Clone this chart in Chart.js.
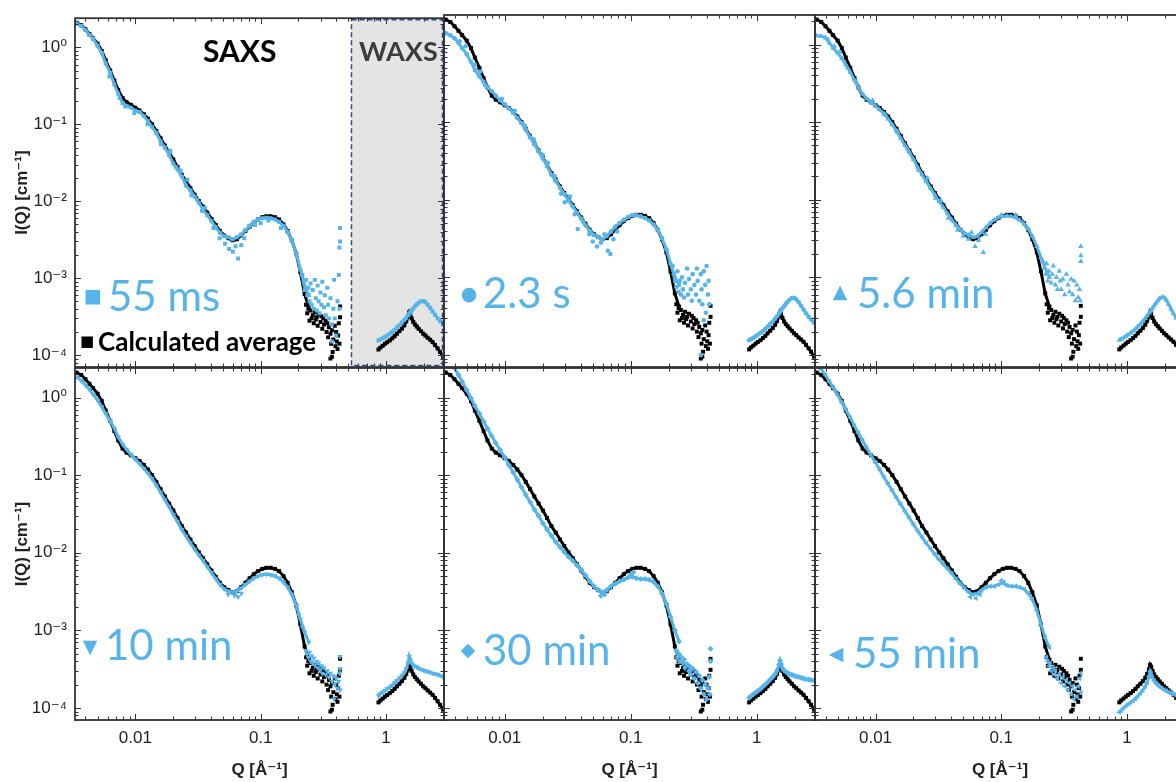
<!DOCTYPE html>
<html>
<head>
<meta charset="utf-8">
<title>SAXS / WAXS time series</title>
<script src="https://cdn.jsdelivr.net/npm/chart.js@4.4.1/dist/chart.umd.min.js"></script>
<style>
html, body { margin:0; padding:0; width:1176px; height:782px; overflow:hidden; background:#fff; }
canvas { position:absolute; left:0; top:0; }
</style>
</head>
<body>
<canvas id="c1" width="1190" height="782"></canvas>
<canvas id="c2" width="1190" height="782"></canvas>
<canvas id="c3" width="1190" height="782"></canvas>
<canvas id="c4" width="1190" height="782"></canvas>
<canvas id="c5" width="1190" height="782"></canvas>
<canvas id="c6" width="1190" height="782"></canvas>
<script>
// Q grids (1/Å)
const qSaxs = [0.0034,0.0037,0.004,0.0043,0.0046,0.005,0.0054,0.0058,0.0063,0.0068,0.0073,0.0079,0.0085,0.0092,0.01,0.0108,0.0117,0.0126,0.0136,0.0147,0.0159,0.0172,0.0186,0.0201,0.0217,0.0235,0.0254,0.0275,0.0297,0.0321,0.0347,0.0375,0.0405,0.0438,0.0473,0.0511,0.0553,0.0598,0.0646,0.0698,0.0755,0.0816,0.0882,0.0953,0.103,0.111,0.12,0.13,0.14,0.152,0.164,0.177,0.192,0.207,0.224,0.242];
const qWaxs = [0.87,0.9,0.94,0.98,1.02,1.07,1.12,1.17,1.22,1.28,1.34,1.4,1.45,1.5,1.53,1.56,1.6,1.65,1.7,1.76,1.82,1.9,1.98,2.06,2.15,2.25,2.35,2.46,2.58,2.7,2.85];

// calculated average (black)
const avgSaxs = [2.1,1.95,1.72,1.5,1.32,1.12,0.9,0.68,0.5,0.37,0.28,0.22,0.195,0.18,0.165,0.152,0.135,0.118,0.1,0.082,0.066,0.053,0.043,0.035,0.028,0.022,0.0182,0.0148,0.0122,0.0101,0.0085,0.0071,0.0059,0.0049,0.0041,0.0036,0.0033,0.0031,0.0032,0.0036,0.0041,0.0047,0.0053,0.0058,0.0062,0.0064,0.0064,0.0062,0.0058,0.005,0.0041,0.0031,0.0021,0.0012,0.00062,0.00042];
const avgNoise = [[0.23,0.00045],[0.235,0.00035],[0.24,0.0004],[0.245,0.00028],[0.25,0.00038],[0.255,0.0003],[0.26,0.00033],[0.265,0.00026],[0.27,0.00036],[0.275,0.00029],[0.28,0.00031],[0.285,0.00024],[0.29,0.00034],[0.3,0.00027],[0.305,0.00032],[0.31,0.00022],[0.315,0.0003],[0.32,0.00025],[0.33,0.00028],[0.335,0.0002],[0.34,0.00026],[0.345,0.00017],[0.35,0.00023],[0.36,0.00019],[0.365,0.00014],[0.37,0.00021],[0.375,0.00011],[0.38,0.00016],[0.39,0.00024],[0.395,0.00013],[0.4,0.0002],[0.405,0.00015],[0.41,0.00012],[0.415,0.00018],[0.42,0.00026],[0.425,0.00014],[0.43,0.00043],[0.43,0.00031],[0.37,0.000095],[0.36,0.00009]];
const avgWaxs = [1.18e-4,1.25e-4,1.32e-4,1.4e-4,1.47e-4,1.55e-4,1.65e-4,1.76e-4,1.9e-4,2.05e-4,2.22e-4,2.45e-4,2.75e-4,3.15e-4,3.6e-4,3.4e-4,3.0e-4,2.7e-4,2.5e-4,2.35e-4,2.2e-4,2.05e-4,1.9e-4,1.8e-4,1.68e-4,1.58e-4,1.48e-4,1.35e-4,1.22e-4,1.1e-4,9.5e-5];

// 55 ms
const ms55Saxs = [2.05,1.9,1.68,1.45,1.3,1.05,0.85,0.62,0.47,0.33,0.25,0.19,0.175,0.165,0.15,0.145,0.128,0.11,0.092,0.078,0.06,0.05,0.04,0.031,0.026,0.021,0.016,0.0138,0.0115,0.0096,0.0078,0.0066,0.0055,0.0046,0.0039,0.0035,0.0034,0.0032,0.0034,0.0037,0.0042,0.0048,0.0054,0.0058,0.006,0.0061,0.006,0.0058,0.0054,0.0048,0.004,0.0031,0.0021,0.0013,0.0008,0.0006];
const ms55Extra = [[0.0062,0.42],[0.0075,0.22],[0.0083,0.17],[0.0098,0.14],[0.0125,0.1],[0.016,0.055],[0.019,0.045],[0.021,0.028],[0.023,0.025],[0.026,0.019],[0.028,0.012],[0.031,0.0105],[0.034,0.0075],[0.036,0.0082],[0.042,0.0045],[0.047,0.0033],[0.052,0.0028],[0.056,0.0024],[0.06,0.0022],[0.063,0.0026],[0.066,0.0018],[0.07,0.0027],[0.074,0.0033],[0.09,0.0049],[0.1,0.0052],[0.115,0.0056],[0.145,0.0045]];
const ms55Noise = [[0.215,0.0011],[0.22,0.0009],[0.225,0.0007],[0.23,0.00095],[0.235,0.0006],[0.24,0.00075],[0.245,0.0005],[0.25,0.00085],[0.255,0.00045],[0.26,0.0007],[0.265,0.0004],[0.27,0.00095],[0.275,0.00055],[0.28,0.00038],[0.285,0.0008],[0.29,0.0005],[0.295,0.00035],[0.3,0.00065],[0.305,0.00045],[0.31,0.0009],[0.32,0.00042],[0.325,0.0006],[0.33,0.00033],[0.34,0.00075],[0.345,0.00045],[0.35,0.0003],[0.36,0.00055],[0.37,0.00025],[0.38,0.0004],[0.385,0.00095],[0.39,0.0003],[0.4,0.00018],[0.41,0.0005],[0.42,0.0011],[0.425,0.0004],[0.43,0.0045],[0.43,0.003],[0.425,0.0025],[0.37,0.00015]];
const ms55Waxs = [1.55e-4,1.6e-4,1.65e-4,1.72e-4,1.8e-4,1.9e-4,2.0e-4,2.12e-4,2.28e-4,2.45e-4,2.65e-4,2.85e-4,3.05e-4,3.3e-4,3.45e-4,3.6e-4,3.8e-4,4.05e-4,4.3e-4,4.55e-4,4.8e-4,5.0e-4,5.05e-4,4.85e-4,4.5e-4,4.1e-4,3.7e-4,3.35e-4,3.0e-4,2.75e-4,2.5e-4];

// 2.3 s
const s23Saxs = [1.4,1.32,1.2,1.05,0.9,0.75,0.6,0.47,0.39,0.33,0.28,0.25,0.22,0.19,0.17,0.15,0.132,0.113,0.097,0.08,0.064,0.052,0.042,0.034,0.027,0.021,0.0175,0.0142,0.0118,0.0097,0.0082,0.0068,0.0057,0.0047,0.004,0.0035,0.0033,0.0031,0.0034,0.0039,0.0045,0.005,0.0055,0.006,0.0063,0.0063,0.0061,0.0058,0.0054,0.0048,0.0041,0.0032,0.0023,0.0015,0.001,0.0008];
const s23Extra = [[0.0044,1.1],[0.0049,0.95],[0.0058,0.55],[0.0064,0.45],[0.007,0.3],[0.0095,0.2],[0.012,0.14],[0.0145,0.09],[0.017,0.06],[0.02,0.038],[0.022,0.03],[0.025,0.02],[0.028,0.012],[0.03,0.0093],[0.033,0.011],[0.036,0.0065],[0.038,0.0042],[0.042,0.0052],[0.047,0.0036],[0.05,0.0029],[0.054,0.0025],[0.058,0.0028],[0.062,0.0036],[0.066,0.0022],[0.069,0.002],[0.073,0.0031],[0.078,0.0039]];
const s23Noise = [[0.215,0.0014],[0.22,0.0011],[0.225,0.0009],[0.23,0.00075],[0.235,0.0012],[0.24,0.00065],[0.245,0.0009],[0.25,0.0006],[0.255,0.001],[0.26,0.0007],[0.265,0.00055],[0.27,0.00085],[0.28,0.0013],[0.285,0.0006],[0.29,0.00095],[0.3,0.0007],[0.305,0.0005],[0.31,0.0011],[0.32,0.0008],[0.33,0.0006],[0.335,0.0013],[0.34,0.0009],[0.35,0.0005],[0.36,0.0011],[0.365,0.0007],[0.37,0.00045],[0.38,0.0012],[0.39,0.0008],[0.395,0.00035],[0.4,0.0014],[0.41,0.0006],[0.415,0.0009],[0.42,0.00045],[0.36,0.0001],[0.38,0.00028]];
const s23Waxs = [1.55e-4,1.6e-4,1.66e-4,1.74e-4,1.82e-4,1.92e-4,2.03e-4,2.16e-4,2.32e-4,2.5e-4,2.7e-4,2.92e-4,3.15e-4,3.4e-4,3.58e-4,3.75e-4,3.98e-4,4.25e-4,4.55e-4,4.85e-4,5.15e-4,5.4e-4,5.45e-4,5.2e-4,4.8e-4,4.3e-4,3.85e-4,3.45e-4,3.1e-4,2.85e-4,2.6e-4];

// 5.6 min
const min6Saxs = [1.3,1.28,1.22,1.05,0.9,0.78,0.66,0.55,0.44,0.35,0.28,0.23,0.2,0.18,0.162,0.145,0.128,0.11,0.093,0.077,0.062,0.05,0.041,0.033,0.026,0.021,0.0172,0.014,0.0115,0.0095,0.008,0.0066,0.0055,0.0047,0.0041,0.0037,0.0035,0.0033,0.0034,0.0038,0.0044,0.005,0.0055,0.0059,0.0061,0.0062,0.0061,0.0059,0.0055,0.0049,0.0042,0.0034,0.0025,0.0018,0.0013,0.001];
const min6Extra = [[0.0042,1.15],[0.0047,0.95],[0.0052,0.8],[0.006,0.5],[0.007,0.33],[0.0095,0.19],[0.012,0.125],[0.015,0.075],[0.018,0.045],[0.022,0.024],[0.026,0.019],[0.03,0.0105],[0.033,0.0098],[0.038,0.0058],[0.045,0.0041],[0.05,0.0034],[0.055,0.0031],[0.058,0.0038],[0.062,0.0025],[0.066,0.003],[0.072,0.0021],[0.075,0.0036],[0.1,0.0063],[0.13,0.0063]];
const min6Noise = [[0.215,0.0016],[0.22,0.0013],[0.225,0.0011],[0.23,0.0015],[0.235,0.0009],[0.24,0.0012],[0.25,0.00085],[0.255,0.0011],[0.26,0.0014],[0.27,0.0008],[0.275,0.001],[0.28,0.0007],[0.29,0.0012],[0.295,0.0009],[0.3,0.0007],[0.31,0.00095],[0.32,0.0006],[0.33,0.0011],[0.34,0.0008],[0.35,0.00065],[0.36,0.00095],[0.37,0.0006],[0.38,0.0009],[0.39,0.0005],[0.4,0.0008],[0.41,0.00055],[0.42,0.0007],[0.43,0.0025],[0.43,0.0019],[0.43,0.0016],[0.425,0.0005]];
const min6Waxs = [1.55e-4,1.6e-4,1.66e-4,1.74e-4,1.82e-4,1.92e-4,2.03e-4,2.16e-4,2.32e-4,2.5e-4,2.72e-4,2.95e-4,3.2e-4,3.45e-4,3.62e-4,3.8e-4,4.05e-4,4.35e-4,4.65e-4,5.0e-4,5.3e-4,5.55e-4,5.5e-4,5.1e-4,4.5e-4,3.9e-4,3.4e-4,3.0e-4,2.7e-4,2.45e-4,2.25e-4];

// 10 min
const min10Saxs = [1.85,1.65,1.45,1.27,1.1,0.92,0.76,0.62,0.5,0.4,0.31,0.25,0.215,0.185,0.16,0.14,0.122,0.106,0.09,0.074,0.06,0.048,0.039,0.031,0.025,0.0198,0.0163,0.0134,0.0111,0.0093,0.0079,0.0066,0.0055,0.0046,0.0039,0.0034,0.0032,0.0031,0.0032,0.0035,0.0039,0.0043,0.0047,0.005,0.0052,0.0053,0.0052,0.005,0.0047,0.0042,0.0036,0.0029,0.0021,0.0014,0.00095,0.0007];
const min10Extra = [[0.055,0.0029],[0.062,0.0028],[0.066,0.0027],[0.07,0.003],[0.2,0.0016],[0.215,0.0011]];
const min10Noise = [[0.23,0.00055],[0.235,0.0005],[0.24,0.00045],[0.245,0.00052],[0.25,0.0004],[0.255,0.00047],[0.26,0.00038],[0.265,0.00044],[0.27,0.00036],[0.28,0.0004],[0.285,0.00033],[0.29,0.00038],[0.3,0.00031],[0.305,0.00035],[0.31,0.00028],[0.32,0.00033],[0.33,0.00027],[0.34,0.0003],[0.35,0.00025],[0.36,0.00028],[0.37,0.00022],[0.38,0.00026],[0.385,0.00013],[0.39,0.0002],[0.4,0.00024],[0.41,0.00018],[0.42,0.00022],[0.425,0.00028],[0.43,0.00032],[0.43,0.00046],[0.43,0.00017]];
const min10Waxs = [1.45e-4,1.52e-4,1.6e-4,1.68e-4,1.76e-4,1.85e-4,1.96e-4,2.1e-4,2.25e-4,2.42e-4,2.6e-4,2.85e-4,3.2e-4,3.8e-4,4.6e-4,4.2e-4,3.75e-4,3.55e-4,3.45e-4,3.35e-4,3.25e-4,3.15e-4,3.08e-4,3.0e-4,2.95e-4,2.88e-4,2.8e-4,2.75e-4,2.7e-4,2.62e-4,2.5e-4];

// 30 min
const min30Saxs = [null,null,2.4,1.95,1.6,1.25,0.98,0.78,0.62,0.49,0.4,0.32,0.26,0.21,0.17,0.135,0.108,0.087,0.07,0.056,0.045,0.036,0.03,0.024,0.02,0.0165,0.0138,0.0118,0.0102,0.0089,0.0079,0.0069,0.006,0.0051,0.0043,0.0037,0.0033,0.0031,0.0033,0.0037,0.004,0.0043,0.0045,0.0048,0.0049,0.0047,0.0046,0.0046,0.0045,0.0042,0.0037,0.003,0.0022,0.0015,0.001,0.00072];
const min30Extra = [[0.058,0.0028],[0.062,0.0029],[0.1,0.0052],[0.105,0.0056]];
const min30Noise = [[0.23,0.00055],[0.235,0.00045],[0.24,0.0005],[0.245,0.0004],[0.25,0.00046],[0.26,0.00038],[0.265,0.00042],[0.27,0.00033],[0.28,0.00037],[0.29,0.0003],[0.295,0.00034],[0.3,0.00027],[0.31,0.00032],[0.32,0.00024],[0.33,0.00029],[0.34,0.00021],[0.35,0.00026],[0.36,0.00018],[0.37,0.00023],[0.38,0.00015],[0.39,0.0002],[0.4,0.00013],[0.41,0.00018],[0.42,0.00025],[0.425,0.00015],[0.43,0.00058],[0.43,0.0004]];
const min30Waxs = [1.35e-4,1.42e-4,1.5e-4,1.58e-4,1.66e-4,1.76e-4,1.88e-4,2.0e-4,2.15e-4,2.32e-4,2.5e-4,2.75e-4,3.05e-4,3.6e-4,4.1e-4,3.7e-4,3.25e-4,3.05e-4,2.92e-4,2.82e-4,2.75e-4,2.68e-4,2.6e-4,2.55e-4,2.5e-4,2.45e-4,2.4e-4,2.35e-4,2.32e-4,2.3e-4,2.25e-4];

// 55 min
const min55Saxs = [null,2.3,1.95,1.6,1.35,1.08,0.86,0.7,0.55,0.43,0.35,0.28,0.225,0.18,0.145,0.117,0.094,0.077,0.063,0.051,0.042,0.034,0.028,0.023,0.019,0.0158,0.0132,0.0112,0.0095,0.0082,0.0071,0.0062,0.0054,0.0046,0.004,0.0035,0.0031,0.0029,0.003,0.0033,0.0036,0.0037,0.0037,0.0039,0.0041,0.0038,0.0037,0.0037,0.0036,0.0034,0.003,0.0025,0.0018,0.0012,0.0008,0.0006];
const min55Extra = [[0.057,0.0027],[0.063,0.0026],[0.068,0.0029],[0.1,0.0044],[0.105,0.0042]];
const min55Noise = [[0.23,0.00045],[0.235,0.0004],[0.24,0.00035],[0.245,0.00038],[0.25,0.0003],[0.26,0.00033],[0.265,0.00027],[0.27,0.0003],[0.28,0.00024],[0.29,0.00027],[0.3,0.00021],[0.31,0.00025],[0.32,0.00019],[0.33,0.00023],[0.34,0.00017],[0.35,0.00021],[0.36,0.00015],[0.37,0.00019],[0.38,0.00013],[0.39,0.00017],[0.4,0.00014],[0.41,0.00019],[0.42,0.00024],[0.43,0.00028],[0.43,0.00016]];
const min55Waxs = [8.8e-5,9.3e-5,1.0e-4,1.06e-4,1.12e-4,1.18e-4,1.24e-4,1.32e-4,1.42e-4,1.55e-4,1.7e-4,1.9e-4,2.15e-4,2.55e-4,2.95e-4,2.75e-4,2.45e-4,2.25e-4,2.1e-4,1.98e-4,1.88e-4,1.8e-4,1.72e-4,1.66e-4,1.6e-4,1.55e-4,1.5e-4,1.45e-4,1.4e-4,1.35e-4,1.3e-4];

const BLUE = "#56b4e9";
const W = 1190, H = 782;
const cols = [[75, 444], [444, 815], [815, 1185]];
const rows = [[15, 367], [368, 720]];
const sans = "'Liberation Sans', Arial, 'DejaVu Sans', sans-serif";

const panels = [
  {id:"c1", col:0, row:0, label:"55 ms", marker:"■", style:"rect", rot:0, r:2.8, saxs:ms55Saxs, extra:ms55Extra, noise:ms55Noise, waxs:ms55Waxs, mx:18, my:279, tx:33, ty:293, first:true},
  {id:"c2", col:1, row:0, label:"2.3 s", marker:"●", style:"circle", rot:0, r:2.3, saxs:s23Saxs, extra:s23Extra, noise:s23Noise, waxs:s23Waxs, mx:25, my:280, tx:39, ty:293},
  {id:"c3", col:2, row:0, label:"5.6 min", marker:"▲", style:"triangle", rot:0, r:3.2, saxs:min6Saxs, extra:min6Extra, noise:min6Noise, waxs:min6Waxs, mx:25, my:278, tx:42, ty:293},
  {id:"c4", col:0, row:1, label:"10 min", marker:"▼", style:"triangle", rot:180, r:3.2, saxs:min10Saxs, extra:min10Extra, noise:min10Noise, waxs:min10Waxs, mx:15, my:280, tx:30, ty:292},
  {id:"c5", col:1, row:1, label:"30 min", marker:"◆", style:"rectRot", rot:0, r:3, saxs:min30Saxs, extra:min30Extra, noise:min30Noise, waxs:min30Waxs, mx:24, my:283, tx:39, ty:297},
  {id:"c6", col:2, row:1, label:"55 min", marker:"◀", style:"triangle", rot:270, r:3.2, saxs:min55Saxs, extra:min55Extra, noise:min55Noise, waxs:min55Waxs, mx:21, my:287, tx:38, ty:300}
];

function onGrid(xs, ys) { return xs.map((x, i) => ({x: x, y: ys[i]})); }
function fromPairs(list) { return list.map(p => ({x: p[0], y: p[1]})); }

const SUP = {"-":"⁻","0":"⁰","1":"¹","2":"²","3":"³","4":"⁴","5":"⁵"};
function isDecade(v) { const e = Math.log10(v); return Math.abs(e - Math.round(e)) < 1e-6; }
function yLabel(v) {
  if (!isDecade(v)) return null;
  return "10" + String(Math.round(Math.log10(v))).split("").map(c => SUP[c]).join("");
}
function xLabel(v) { return isDecade(v) ? String(+v.toPrecision(3)) : null; }

function series(data, color, p, line) {
  return {
    data: data, showLine: line, tension: 0,
    borderColor: color, borderWidth: line ? 3 : 0,
    backgroundColor: color, pointBackgroundColor: color, pointBorderWidth: 0,
    pointStyle: p ? p.style : "rect", pointRotation: p ? p.rot : 0,
    pointRadius: p ? p.r : 2.8, pointHoverRadius: 0
  };
}

// frame with inward ticks on all four sides
const framePlugin = {
  id: "frame",
  afterDatasetsDraw(chart) {
    const {ctx, chartArea: a, scales: {x, y}} = chart;
    ctx.save();
    ctx.strokeStyle = "#333";
    ctx.lineWidth = 1;
    ctx.beginPath();
    for (let n = -3; n <= 0; n++) for (let k = 1; k <= 9; k++) {
      const v = k * Math.pow(10, n);
      if (v < x.min || v > x.max) continue;
      const px = Math.round(x.getPixelForValue(v)) + 0.5, len = k === 1 ? 6 : 3.5;
      ctx.moveTo(px, a.bottom); ctx.lineTo(px, a.bottom - len);
      ctx.moveTo(px, a.top); ctx.lineTo(px, a.top + len);
    }
    for (let n = -5; n <= 0; n++) for (let k = 1; k <= 9; k++) {
      const v = k * Math.pow(10, n);
      if (v < y.min || v > y.max) continue;
      const py = Math.round(y.getPixelForValue(v)) + 0.5, len = k === 1 ? 6 : 3.5;
      ctx.moveTo(a.left, py); ctx.lineTo(a.left + len, py);
      ctx.moveTo(a.right, py); ctx.lineTo(a.right - len, py);
    }
    ctx.stroke();
    ctx.lineWidth = 1.8;
    ctx.strokeRect(a.left, a.top, a.right - a.left, a.bottom - a.top);
    ctx.restore();
  }
};

// panel labels, SAXS / WAXS region
const notesPlugin = {
  id: "notes",
  beforeDatasetsDraw(chart, args, o) {
    if (!o.first) return;
    const {ctx, chartArea: a, scales: {x}} = chart;
    const x0 = x.getPixelForValue(0.53);
    ctx.save();
    ctx.fillStyle = "#e4e4e4";
    ctx.fillRect(x0, a.top, a.right - x0, a.bottom - a.top);
    ctx.restore();
  },
  afterDraw(chart, args, o) {
    const {ctx, chartArea: a, scales: {x}} = chart;
    ctx.save();
    ctx.fillStyle = BLUE;
    ctx.textAlign = "center"; ctx.textBaseline = "middle";
    ctx.font = "19px 'DejaVu Sans'";
    ctx.fillText(o.marker, a.left + o.mx, a.top + o.my);
    ctx.textAlign = "left"; ctx.textBaseline = "alphabetic";
    ctx.font = "42px Lato";
    ctx.fillText(o.label, a.left + o.tx, a.top + o.ty);
    if (o.first) {
      const x0 = x.getPixelForValue(0.53);
      ctx.strokeStyle = "#2b4a86"; ctx.lineWidth = 1.5; ctx.setLineDash([5, 3]);
      ctx.strokeRect(x0, a.top + 1.5, a.right - 1.5 - x0, a.bottom - a.top - 3);
      ctx.setLineDash([]);
      ctx.fillStyle = "#000";
      ctx.font = "bold 30px Lato";
      ctx.fillText("SAXS", a.left + 128, a.top + 44);
      ctx.fillStyle = "#3c3c3c";
      ctx.font = "bold 27px Lato";
      ctx.fillText("WAXS", a.left + 284, a.top + 43);
      ctx.fillStyle = "#000";
      ctx.textAlign = "center"; ctx.textBaseline = "middle";
      ctx.font = "15px 'DejaVu Sans'";
      ctx.fillText("■", a.left + 12, a.top + 324);
      ctx.textAlign = "left"; ctx.textBaseline = "alphabetic";
      ctx.font = "bold 26px Lato";
      ctx.fillText("Calculated average", a.left + 23, a.top + 333);
    }
    ctx.restore();
  }
};

panels.forEach(p => {
  const [L, R] = cols[p.col], [T, B] = rows[p.row];
  const showY = p.col === 0, showX = p.row === 1;
  const cfg = {
    type: "scatter",
    data: {
      datasets: [
        series(fromPairs(p.extra), BLUE, p, false),
        series(fromPairs(p.noise), BLUE, p, false),
        series(onGrid(qSaxs, p.saxs), BLUE, p, true),
        series(onGrid(qWaxs, p.waxs), BLUE, p, true),
        series(onGrid(qSaxs, avgSaxs), "#000", null, true),
        series(fromPairs(avgNoise), "#000", null, false),
        series(onGrid(qWaxs, avgWaxs), "#000", null, true)
      ]
    },
    options: {
      responsive: false, animation: false, devicePixelRatio: 1,
      events: [],
      layout: {padding: {left: showY ? L - 75 : L, top: T, right: W - R, bottom: showX ? H - B - 62 : H - B}},
      plugins: {
        legend: {display: false}, tooltip: {enabled: false},
        notes: p
      },
      scales: {
        x: {
          type: "logarithmic", min: 0.0033, max: 2.9,
          grid: {display: false, drawTicks: false}, border: {display: false},
          ticks: {display: showX, autoSkip: false, maxRotation: 0, padding: 8, color: "#222",
                  font: {family: sans, size: 17}, callback: v => xLabel(v)},
          title: {display: showX, text: "Q [Å⁻¹]", color: "#222", padding: {top: 0, bottom: 1},
                  font: {family: sans, size: 17, weight: "bold"}},
          afterFit: s => { s.height = showX ? 62 : 0; }
        },
        y: {
          type: "logarithmic", min: 7.3e-5, max: 2.4,
          grid: {display: false, drawTicks: false}, border: {display: false},
          ticks: {display: showY, autoSkip: false, padding: 8, color: "#222",
                  font: {family: sans, size: 17}, callback: v => yLabel(v)},
          title: {display: showY, text: "I(Q) [cm⁻¹]", color: "#222", padding: {top: 12, bottom: 0},
                  font: {family: sans, size: 17, weight: "bold"}},
          afterFit: s => { s.width = showY ? 75 : 0; }
        }
      }
    },
    plugins: [framePlugin, notesPlugin]
  };
  const chart = new Chart(document.getElementById(p.id), cfg);
  // nudge the layout so the plot area lands on the panel grid
  const a = chart.chartArea, pad = chart.config.options.layout.padding;
  chart.config.options.layout.padding = {
    left: pad.left + (L - a.left), top: pad.top + (T - a.top),
    right: pad.right + (a.right - R), bottom: pad.bottom + (a.bottom - B)
  };
  chart.update();
});
</script>
</body>
</html>
